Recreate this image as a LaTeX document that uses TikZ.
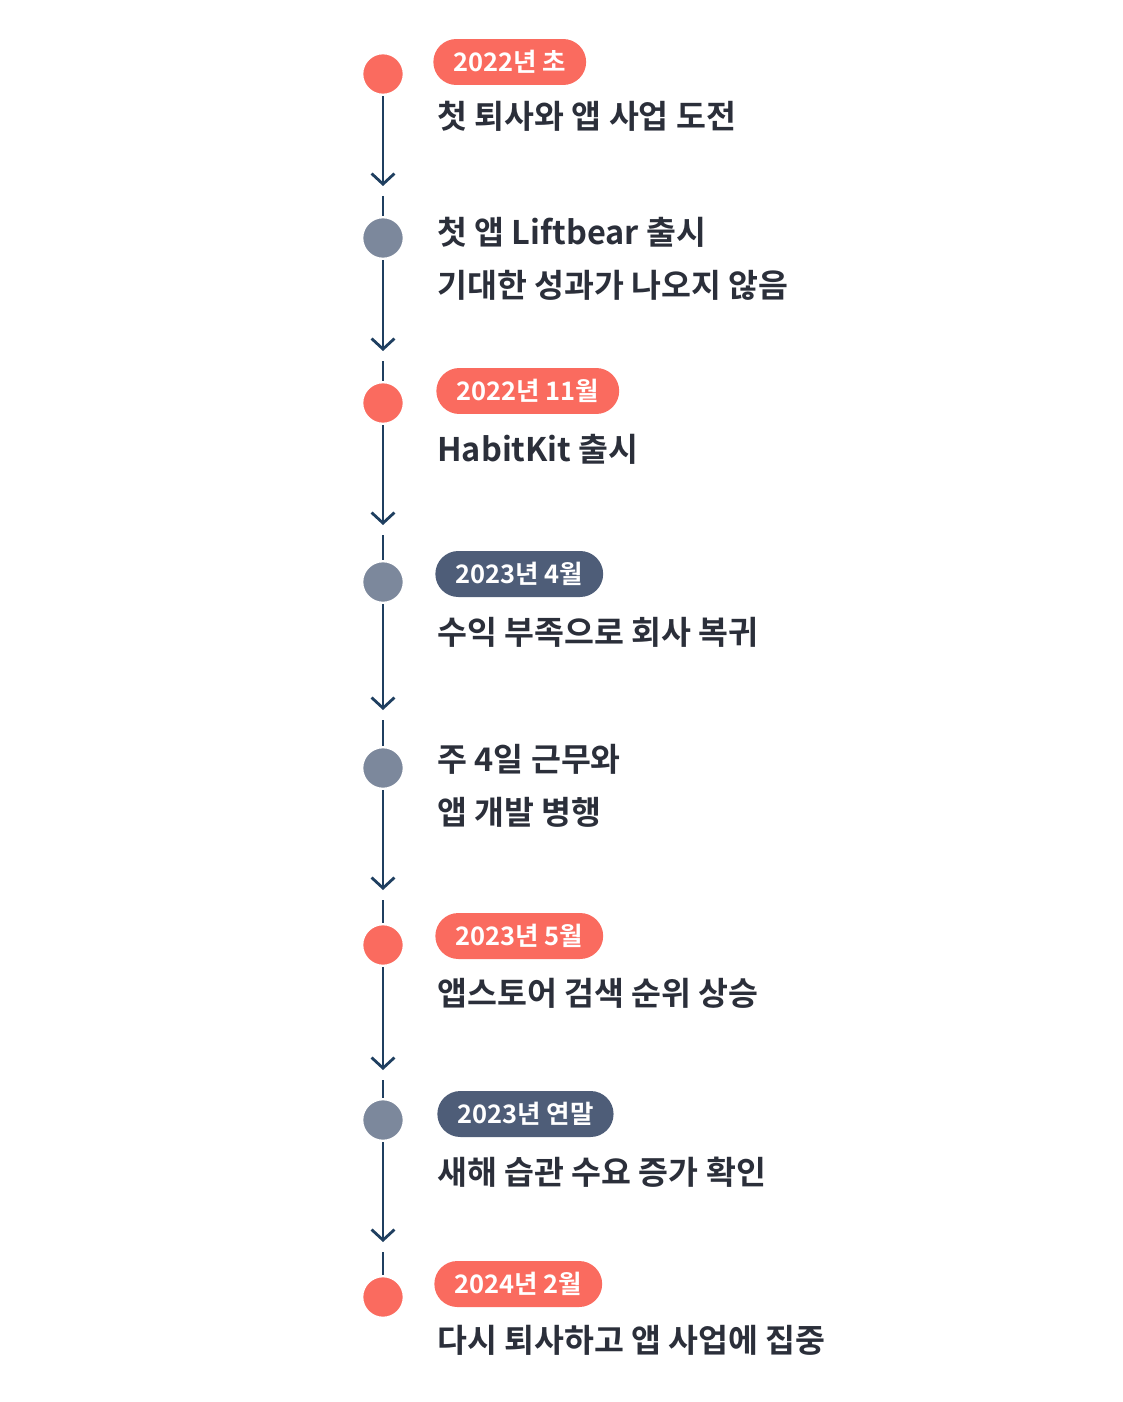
\documentclass[tikz,border=0pt]{standalone}
\usepackage{fontspec}
\setmainfont{Noto Sans CJK KR}[BoldFont={* Bold}]
\usetikzlibrary{arrows.meta}

\definecolor{hot}{HTML}{FA6B5F}
\definecolor{cool}{HTML}{7C889C}
\definecolor{slate}{HTML}{4E5D78}
\definecolor{line}{HTML}{1F3F60}
\definecolor{ink}{HTML}{2B2F3A}

\tikzset{
  dot/.style={circle, fill=#1, draw=white, line width=1.5pt, minimum size=0.84cm, inner sep=0pt},
  pill/.style={rounded corners=0.46cm, fill=#1, text=white, font=\bfseries\fontsize{14.5}{16}\selectfont, minimum height=0.92cm, inner xsep=0.4cm, anchor=west},
  event/.style={text=ink, font=\bfseries\fontsize{18.5}{30}\selectfont, anchor=west, align=left, inner sep=0pt},
  conn/.style={draw=line, line width=1.6pt},
  tip/.style={conn, -{Straight Barb[length=6pt, width=13pt, line width=1.6pt]}}
}

\begin{document}
\begin{tikzpicture}[x=0.02cm, y=-0.02cm]
        \useasboundingbox (0,0) rectangle (1122,1402);
        % dots
        \node[dot=hot]  (d1) at (383,74) {};
        \node[dot=cool] (d2) at (383,238) {};
        \node[dot=hot]  (d3) at (383,403) {};
        \node[dot=cool] (d4) at (383,582) {};
        \node[dot=cool] (d5) at (383,768) {};
        \node[dot=hot]  (d6) at (383,945) {};
        \node[dot=cool] (d7) at (383,1120) {};
        \node[dot=hot]  (d8) at (383,1297) {};
        % labels
        \node[pill=hot] (p1) at (433,62) {2022년 초};
        \node[event] (s1) at (437,116) {첫 퇴사와 앱 사업 도전};
        \node[event] (s2) at (437,259) {첫 앱 Liftbear 출시\\기대한 성과가 나오지 않음};
        \node[pill=hot] (p3) at (436,391) {2022년 11월};
        \node[event] (s3) at (437,449) {HabitKit 출시};
        \node[pill=slate] (p4) at (435,574) {2023년 4월};
        \node[event] (s4) at (437,632) {수익 부족으로 회사 복귀};
        \node[event] (s5) at (437,786) {주 4일 근무와\\앱 개발 병행};
        \node[pill=hot] (p6) at (435,936) {2023년 5월};
        \node[event] (s6) at (437,993) {앱스토어 검색 순위 상승};
        \node[pill=slate] (p7) at (437,1114) {2023년 연말};
        \node[event] (s7) at (437,1172) {새해 습관 수요 증가 확인};
        \node[pill=hot] (p8) at (434,1284) {2024년 2월};
        \node[event] (s8) at (437,1340) {다시 퇴사하고 앱 사업에 집중};
        % arrow tips and gaps
        \coordinate (t1) at (383,186);  \coordinate (g1) at (383,196);
        \coordinate (t2) at (383,351);  \coordinate (g2) at (383,361);
        \coordinate (t3) at (383,525);  \coordinate (g3) at (383,535);
        \coordinate (t4) at (383,710);  \coordinate (g4) at (383,720);
        \coordinate (t5) at (383,890);  \coordinate (g5) at (383,900);
        \coordinate (t6) at (383,1070); \coordinate (g6) at (383,1080);
        \coordinate (t7) at (383,1242); \coordinate (g7) at (383,1252);
        % connectors
        \draw[tip] (d1) -- (t1); \draw[conn] (g1) -- (d2);
        \draw[tip] (d2) -- (t2); \draw[conn] (g2) -- (d3);
        \draw[tip] (d3) -- (t3); \draw[conn] (g3) -- (d4);
        \draw[tip] (d4) -- (t4); \draw[conn] (g4) -- (d5);
        \draw[tip] (d5) -- (t5); \draw[conn] (g5) -- (d6);
        \draw[tip] (d6) -- (t6); \draw[conn] (g6) -- (d7);
        \draw[tip] (d7) -- (t7); \draw[conn] (g7) -- (d8);
\end{tikzpicture}
\end{document}
